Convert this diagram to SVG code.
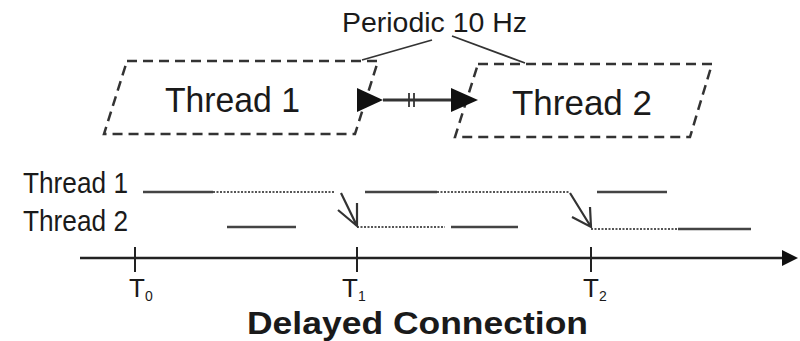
<svg xmlns="http://www.w3.org/2000/svg" width="800" height="341" viewBox="0 0 800 341">
<style>
text{font-family:"Liberation Sans",Arial,sans-serif;fill:#1a1a1a}
.box{fill:none;stroke:#333;stroke-width:2.5;stroke-dasharray:10 6}
.solid{stroke:#444;stroke-width:2.5;fill:none}
.dot{stroke:#555;stroke-width:2;stroke-dasharray:2 1.5;fill:none}
.ln{stroke:#333;stroke-width:1.8;fill:none}
.arr{stroke:#333;stroke-width:2.2;fill:none}
.tick{stroke:#222;stroke-width:2}
.tl{font-size:26px}
.sub{font-size:14px}
</style>
<rect width="800" height="341" fill="#fff"/>
<g id="thread1">
<polygon class="box" points="127,61 378,61 355,134 104,134"/>
<text x="165" y="112" font-size="35" textLength="135" lengthAdjust="spacingAndGlyphs">Thread 1</text>
</g>
<g id="thread2">
<polygon class="box" points="478,64 712,64 690,137 455,137"/>
<text x="512" y="115" font-size="35" textLength="140" lengthAdjust="spacingAndGlyphs">Thread 2</text>
</g>
<g id="periodic-label">
<text x="342" y="32" font-size="28" textLength="185" lengthAdjust="spacingAndGlyphs">Periodic 10 Hz</text>
</g>
<g id="connectors">
<line class="ln" x1="362" y1="60" x2="432" y2="40"/>
<line class="ln" x1="452" y1="36" x2="525" y2="63"/>
<line x1="383" y1="100" x2="452" y2="100" stroke="#333" stroke-width="3"/>
<polygon points="357,88 383,100 357,112" fill="#111"/>
<polygon points="451,88 478,100 451,112" fill="#111"/>
<line x1="409" y1="93" x2="409" y2="107" stroke="#333" stroke-width="1.8"/>
<line x1="414" y1="93" x2="414" y2="107" stroke="#333" stroke-width="1.8"/>
</g>
<g id="timing">
<text x="23" y="193" font-size="29" textLength="105" lengthAdjust="spacingAndGlyphs">Thread 1</text>
<text x="23" y="231" font-size="29" textLength="105" lengthAdjust="spacingAndGlyphs">Thread 2</text>
<line class="solid" x1="143" y1="192" x2="213" y2="192"/>
<line class="dot" x1="213" y1="192" x2="335" y2="192"/>
<line class="solid" x1="365" y1="192" x2="437" y2="192"/>
<line class="dot" x1="437" y1="192" x2="570" y2="192"/>
<line class="solid" x1="597" y1="192" x2="667" y2="192"/>
<line class="solid" x1="227" y1="227" x2="296" y2="227"/>
<line class="dot" x1="357" y1="227" x2="445" y2="227"/>
<line class="solid" x1="451" y1="227" x2="518" y2="227"/>
<line class="dot" x1="591" y1="229" x2="678" y2="229"/>
<line class="solid" x1="678" y1="229" x2="751" y2="229"/>
<path class="arr" d="M341,193 L357,226 M338,210 L357,226 L357,203"/>
<path class="arr" d="M570,193 L591,227 M572,217 L591,227 L590,207"/>
</g>
<g id="axis">
<line x1="80" y1="258" x2="784" y2="258" stroke="#222" stroke-width="2.5"/>
<polygon points="782,250 798,258 782,266" fill="#111"/>
<line class="tick" x1="135" y1="247" x2="135" y2="272"/>
<line class="tick" x1="357" y1="247" x2="357" y2="272"/>
<line class="tick" x1="591" y1="247" x2="591" y2="272"/>
<text class="tl" x="129" y="297">T<tspan class="sub" dy="4">0</tspan></text>
<text class="tl" x="342" y="297">T<tspan class="sub" dy="4">1</tspan></text>
<text class="tl" x="583" y="297">T<tspan class="sub" dy="4">2</tspan></text>
<text x="247" y="334" font-size="32" font-weight="bold" textLength="341" lengthAdjust="spacingAndGlyphs">Delayed Connection</text>
</g>
</svg>
